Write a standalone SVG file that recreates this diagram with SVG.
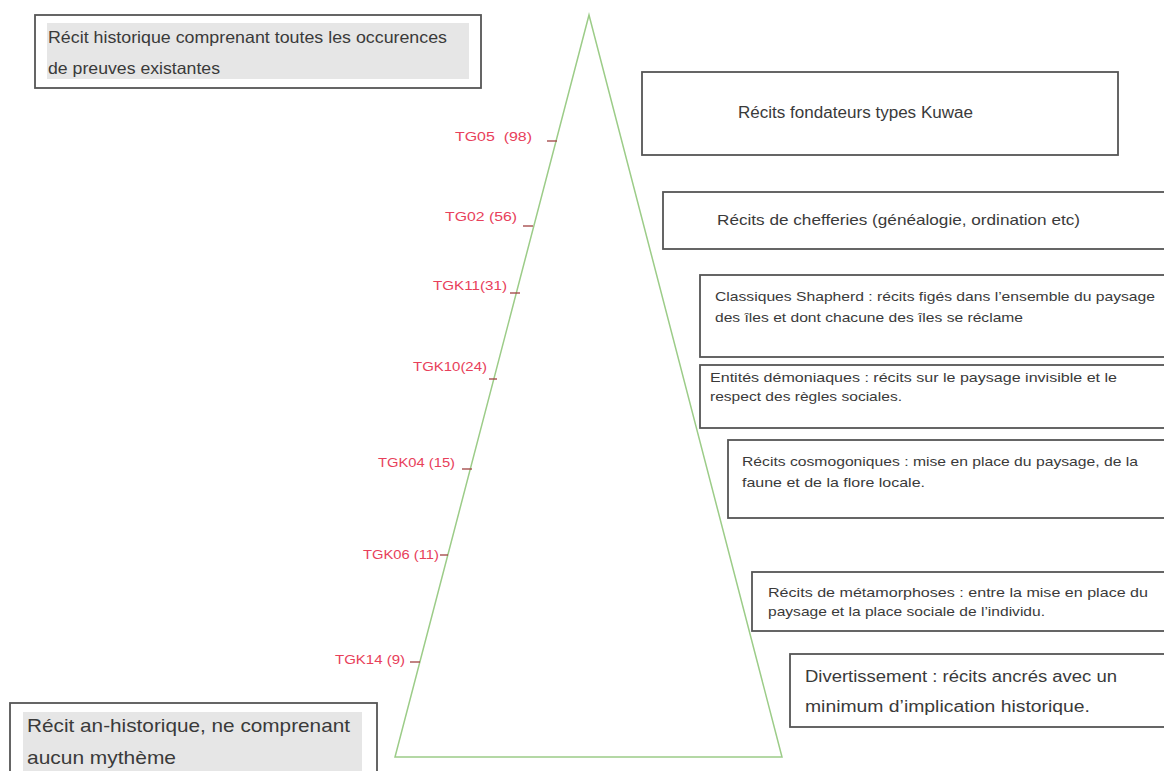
<svg xmlns="http://www.w3.org/2000/svg" width="1164" height="771" viewBox="0 0 1164 771">
<style>
.box{fill:#fff;stroke:#555;stroke-width:1.8}
.shade{fill:#e6e6e6}
.t{font-family:"Liberation Sans",Arial,sans-serif;fill:#3a3a3a}
.lbl{font-family:"Liberation Sans",Arial,sans-serif;fill:#e8405a;font-size:12px}
.tick{stroke:#a04040;stroke-width:1.3}
.tri{fill:none;stroke:#9ccc88;stroke-width:1.5}
</style>
<rect width="1164" height="771" fill="#fff"/>
<g id="connectors">
<polygon class="tri" points="589,15 395,757 782,757"/>
<line class="tick" x1="547" y1="141" x2="557" y2="141"/>
<line class="tick" x1="523" y1="226" x2="533" y2="226"/>
<line class="tick" x1="510" y1="293" x2="520" y2="293"/>
<line class="tick" x1="489" y1="379" x2="497" y2="379"/>
<line class="tick" x1="462" y1="469" x2="472" y2="469"/>
<line class="tick" x1="440" y1="555" x2="448" y2="555"/>
<line class="tick" x1="410" y1="662" x2="420" y2="662"/>
</g>
<g id="labels">
<text class="lbl" x="455" y="141" textLength="77" lengthAdjust="spacingAndGlyphs" xml:space="preserve">TG05  (98)</text>
<text class="lbl" x="445" y="221" textLength="72" lengthAdjust="spacingAndGlyphs">TG02 (56)</text>
<text class="lbl" x="433" y="290" textLength="74" lengthAdjust="spacingAndGlyphs">TGK11(31)</text>
<text class="lbl" x="413" y="371" textLength="74" lengthAdjust="spacingAndGlyphs">TGK10(24)</text>
<text class="lbl" x="378" y="467" textLength="77" lengthAdjust="spacingAndGlyphs">TGK04 (15)</text>
<text class="lbl" x="363" y="559" textLength="76" lengthAdjust="spacingAndGlyphs">TGK06 (11)</text>
<text class="lbl" x="335" y="664" textLength="70" lengthAdjust="spacingAndGlyphs">TGK14 (9)</text>
</g>
<g id="top-left">
<rect class="box" x="35" y="15" width="446" height="73"/>
<rect class="shade" x="47" y="23" width="422" height="56"/>
<text class="t" x="48" y="43" font-size="16.5" textLength="399" lengthAdjust="spacingAndGlyphs">Récit historique comprenant toutes les occurences</text>
<text class="t" x="48" y="74" font-size="16.5" textLength="172" lengthAdjust="spacingAndGlyphs">de preuves existantes</text>
</g>
<g id="bottom-left">
<rect class="box" x="10" y="703" width="367" height="80"/>
<rect class="shade" x="23" y="712" width="339" height="60"/>
<text class="t" x="27" y="732" font-size="19" textLength="323" lengthAdjust="spacingAndGlyphs">Récit an-historique, ne comprenant</text>
<text class="t" x="27" y="764" font-size="19" textLength="149" lengthAdjust="spacingAndGlyphs">aucun mythème</text>
</g>
<g id="box1">
<rect class="box" x="642" y="72" width="476" height="83"/>
<text class="t" x="738" y="118" font-size="16" textLength="235" lengthAdjust="spacingAndGlyphs">Récits fondateurs types Kuwae</text>
</g>
<g id="box2">
<rect class="box" x="663" y="192" width="510" height="57"/>
<text class="t" x="717" y="225" font-size="15" textLength="363" lengthAdjust="spacingAndGlyphs">Récits de chefferies (généalogie, ordination etc)</text>
</g>
<g id="box3">
<rect class="box" x="700" y="275" width="470" height="82"/>
<text class="t" x="715" y="301" font-size="13.5" textLength="440" lengthAdjust="spacingAndGlyphs">Classiques Shapherd : récits figés dans l’ensemble du paysage</text>
<text class="t" x="715" y="322" font-size="13.5" textLength="308" lengthAdjust="spacingAndGlyphs">des îles et dont chacune des îles se réclame</text>
</g>
<g id="box4">
<rect class="box" x="700" y="365" width="470" height="63"/>
<text class="t" x="710" y="382" font-size="13.5" textLength="407" lengthAdjust="spacingAndGlyphs">Entités démoniaques : récits sur le paysage invisible et le</text>
<text class="t" x="710" y="401" font-size="13.5" textLength="192" lengthAdjust="spacingAndGlyphs">respect des règles sociales.</text>
</g>
<g id="box5">
<rect class="box" x="728" y="440" width="442" height="78"/>
<text class="t" x="742" y="466" font-size="13.5" textLength="396" lengthAdjust="spacingAndGlyphs">Récits cosmogoniques : mise en place du paysage, de la</text>
<text class="t" x="742" y="487" font-size="13.5" textLength="183" lengthAdjust="spacingAndGlyphs">faune et de la flore locale.</text>
</g>
<g id="box6">
<rect class="box" x="752" y="572" width="418" height="59"/>
<text class="t" x="768" y="597" font-size="13.5" textLength="380" lengthAdjust="spacingAndGlyphs">Récits de métamorphoses : entre la mise en place du</text>
<text class="t" x="768" y="616" font-size="13.5" textLength="277" lengthAdjust="spacingAndGlyphs">paysage et la place sociale de l’individu.</text>
</g>
<g id="box7">
<rect class="box" x="790" y="654" width="380" height="73"/>
<text class="t" x="805" y="682" font-size="16" textLength="312" lengthAdjust="spacingAndGlyphs">Divertissement : récits ancrés avec un</text>
<text class="t" x="805" y="712" font-size="16" textLength="285" lengthAdjust="spacingAndGlyphs">minimum d’implication historique.</text>
</g>
</svg>
